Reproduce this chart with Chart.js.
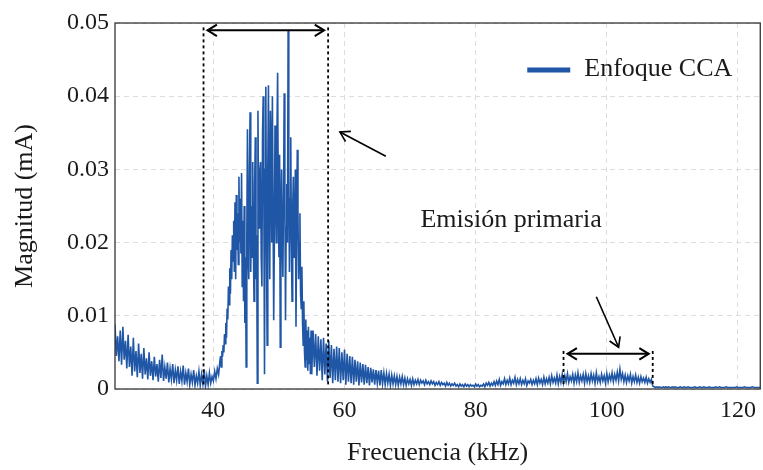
<!DOCTYPE html>
<html lang="es">
<head>
<meta charset="utf-8">
<title>Enfoque CCA — espectro</title>
<script src="https://cdn.jsdelivr.net/npm/chart.js@4.4.1/dist/chart.umd.min.js"></script>
<style>
  html, body { margin: 0; padding: 0; background: #fff; }
  #wrap { width: 763px; height: 470px; }
</style>
</head>
<body>
<div id="wrap"><canvas id="espectro"></canvas></div>
<script>
// Magnitud, en unidades de 1e-4 mA.
// Tramo bajo: 25.0–40.8 kHz cada 0.2 kHz (una fila = 2 kHz)
const magnitudBaja = [
  88, 45, 72, 38, 80, 33, 85, 40, 66, 28,        // 25
  74, 30, 58, 18, 70, 24, 52, 16, 62, 22,        // 27
  48, 14, 56, 20, 42, 13, 50, 18, 38, 12,        // 29
  44, 17, 34, 10, 40, 15, 47, 11, 30, 14,        // 31
  36, 9, 28, 13, 34, 8, 26, 12, 31, 7,           // 33
  24, 11, 32, 6, 22, 10, 28, 6, 20, 9,           // 35
  26, 5, 18, 8, 24, 5, 20, 7, 27, 4,             // 37
  18, 6, 22, 8, 17, 11, 24, 14, 28, 20           // 39
];

// Emisión primaria: 41.0–54.9 kHz cada 0.1 kHz (una fila = 1 kHz)
const magnitudPico = [
  38, 45, 30, 52, 44, 60, 50, 75, 62, 90,             // 41
  70, 110, 95, 140, 115, 165, 130, 190, 150, 210,     // 42
  175, 230, 160, 255, 150, 265, 190, 240, 170, 290,   // 43
  200, 260, 185, 295, 140, 230, 120, 250, 90, 180,    // 44
  30, 210, 355, 180, 150, 300, 378, 160, 250, 180,    // 45
  310, 200, 120, 280, 344, 150, 210, 8, 380, 240,     // 46
  220, 300, 310, 180, 140, 350, 400, 260, 20, 300,    // 47
  413, 200, 60, 300, 415, 250, 150, 380, 330, 200,    // 48
  400, 250, 94, 200, 360, 280, 200, 350, 432, 260,    // 49
  180, 320, 57, 240, 300, 200, 153, 260, 404, 280,    // 50
  94, 220, 280, 200, 490, 300, 160, 260, 344, 200,    // 51
  120, 250, 290, 180, 200, 300, 85, 220, 327, 240,    // 52
  150, 200, 240, 130, 110, 167, 90, 60, 120, 50,      // 53
  30, 95, 40, 80, 25, 85, 35, 70, 20, 80              // 54
];

// Tramo alto: 55.0–123.4 kHz cada 0.2 kHz (una fila = 2 kHz)
const magnitudAlta = [
  20, 80, 30, 75, 18, 72, 25, 68, 12, 70,        // 55
  20, 62, 10, 66, 15, 60, 8, 55, 12, 58,         // 57
  10, 56, 8, 50, 12, 54, 6, 48, 10, 45,          // 59
  8, 44, 6, 40, 10, 38, 5, 36, 9, 34,            // 61
  6, 33, 8, 30, 5, 29, 9, 27, 6, 26,             // 63
  8, 25, 5, 26, 7, 22, 6, 21, 8, 20,             // 65
  5, 19, 7, 18, 6, 17, 5, 16, 7, 17,             // 67
  6, 15, 5, 14, 7, 13, 5, 14, 6, 12,             // 69
  7, 13, 6, 12, 8, 11, 6, 12, 7, 10,             // 71
  6, 11, 7, 10, 5, 9, 6, 10, 5, 9,               // 73
  6, 8, 4, 9, 5, 8, 4, 7, 5, 8,                  // 75
  4, 6, 3, 7, 4, 6, 3, 7, 4, 6,                  // 77
  3, 6, 4, 5, 3, 7, 4, 6, 3, 5,                  // 79
  4, 7, 3, 8, 5, 9, 4, 8, 5, 10,                 // 81
  5, 11, 6, 13, 5, 10, 7, 14, 6, 12,             // 83
  7, 15, 6, 12, 8, 16, 6, 13, 7, 14,             // 85
  6, 12, 7, 14, 5, 11, 8, 13, 6, 12,             // 87
  7, 14, 6, 15, 8, 13, 6, 16, 7, 14,             // 89
  8, 16, 7, 18, 9, 15, 8, 19, 7, 17,             // 91
  9, 20, 8, 18, 10, 21, 9, 17, 11, 20,           // 93
  8, 19, 10, 22, 9, 18, 11, 20, 8, 21,           // 95
  10, 18, 9, 21, 11, 19, 8, 22, 10, 17,          // 97
  9, 20, 11, 18, 8, 21, 10, 19, 12, 22,          // 99
  10, 20, 12, 23, 11, 27, 13, 21, 10, 19,        // 101
  9, 18, 11, 20, 8, 17, 10, 19, 9, 16,           // 103
  8, 17, 10, 15, 9, 16, 8, 14, 9, 13,            // 105
  4, 3, 2, 3, 2, 3, 2, 2, 3, 2,                  // 107
  3, 2, 3, 2, 2, 3, 2, 3, 2, 2,                  // 109
  2, 3, 2, 2, 3, 2, 2, 3, 2, 2,                  // 111
  2, 2, 3, 2, 2, 2, 3, 2, 2, 3,                  // 113
  2, 2, 2, 3, 2, 2, 2, 2, 3, 2,                  // 115
  2, 3, 2, 2, 2, 2, 3, 2, 2, 2,                  // 117
  2, 2, 2, 2, 3, 2, 2, 2, 2, 2,                  // 119
  3, 2, 2, 2, 2, 2, 3, 2, 2, 2,                  // 121
  2, 2, 2                                        // 123
];

// Inicio y paso (kHz) de cada tramo
const tramos = [
  { inicio: 25.0, paso: 0.2, valores: magnitudBaja },
  { inicio: 41.0, paso: 0.1, valores: magnitudPico },
  { inicio: 55.0, paso: 0.2, valores: magnitudAlta }
];

const ticksX = [40, 60, 80, 100, 120];
const ticksY = [0, 0.01, 0.02, 0.03, 0.04, 0.05];

// Anotaciones en coordenadas de datos (kHz, mA)
const bandas = [
  { desde: 38.5, hasta: 57.5, abajo: 0.0005, arriba: 0.0494, flecha: 0.0490 },
  { desde: 93.4, hasta: 107.0, abajo: 0.0003, arriba: 0.0052, flecha: 0.0048 }
];
const flechas = [
  { x0: 66.3, y0: 0.0318, x1: 59.3, y1: 0.0351 },
  { x0: 98.4, y0: 0.0126, x1: 101.8, y1: 0.0057 }
];
const rotulo = { texto: 'Emisión primaria', x: 85.4, y: 0.0231 };

const SERIF = '"Liberation Serif", "Times New Roman", serif';
const TINTA = '#1a1a1a';
const AZUL = '#1f56a6';

const puntos = tramos.flatMap(t => t.valores.map((m, i) => ({
  x: +(t.inicio + i * t.paso).toFixed(1),
  y: m / 10000
})));

function punta(ctx, x, y, ang, largo) {
  ctx.beginPath();
  ctx.moveTo(x + largo * Math.cos(ang + 0.55), y + largo * Math.sin(ang + 0.55));
  ctx.lineTo(x, y);
  ctx.lineTo(x + largo * Math.cos(ang - 0.55), y + largo * Math.sin(ang - 0.55));
  ctx.stroke();
}

const notas = {
  id: 'notas',
  afterDatasetsDraw(chart) {
    const { ctx, chartArea: a, scales: { x, y } } = chart;
    ctx.save();

    // marco
    ctx.strokeStyle = '#333';
    ctx.lineWidth = 1.3;
    ctx.strokeRect(a.left, a.top, a.right - a.left, a.bottom - a.top);

    // bandas punteadas con flecha doble
    ctx.strokeStyle = '#000';
    bandas.forEach(b => {
      const xa = x.getPixelForValue(b.desde), xb = x.getPixelForValue(b.hasta);
      ctx.lineWidth = 1.8;
      ctx.setLineDash([3, 3]);
      [xa, xb].forEach(px => {
        ctx.beginPath();
        ctx.moveTo(px, y.getPixelForValue(b.arriba));
        ctx.lineTo(px, y.getPixelForValue(b.abajo));
        ctx.stroke();
      });
      ctx.setLineDash([]);
      const py = y.getPixelForValue(b.flecha);
      ctx.lineWidth = 2;
      ctx.beginPath();
      ctx.moveTo(xa + 4, py);
      ctx.lineTo(xb - 4, py);
      ctx.stroke();
      punta(ctx, xa + 4, py, 0, 11);
      punta(ctx, xb - 4, py, Math.PI, 11);
    });

    // flechas simples
    ctx.lineWidth = 1.6;
    flechas.forEach(f => {
      const p0x = x.getPixelForValue(f.x0), p0y = y.getPixelForValue(f.y0);
      const p1x = x.getPixelForValue(f.x1), p1y = y.getPixelForValue(f.y1);
      ctx.beginPath();
      ctx.moveTo(p0x, p0y);
      ctx.lineTo(p1x, p1y);
      ctx.stroke();
      punta(ctx, p1x, p1y, Math.atan2(p0y - p1y, p0x - p1x), 11);
    });

    // rótulo
    ctx.fillStyle = TINTA;
    ctx.font = '26px ' + SERIF;
    ctx.textAlign = 'center';
    ctx.textBaseline = 'middle';
    ctx.fillText(rotulo.texto, x.getPixelForValue(rotulo.x), y.getPixelForValue(rotulo.y));

    // leyenda
    const ly = a.top + 47;
    ctx.strokeStyle = AZUL;
    ctx.lineWidth = 5;
    ctx.beginPath();
    ctx.moveTo(a.right - 233, ly);
    ctx.lineTo(a.right - 190, ly);
    ctx.stroke();
    ctx.textAlign = 'left';
    ctx.fillText('Enfoque CCA', a.right - 176, ly - 1);

    ctx.restore();
  }
};

new Chart(document.getElementById('espectro'), {
  type: 'line',
  data: {
    datasets: [{
      label: 'Enfoque CCA',
      data: puntos,
      borderColor: AZUL,
      borderWidth: 1.6,
      borderJoinStyle: 'miter',
      pointRadius: 0,
      tension: 0,
      fill: false
    }]
  },
  options: {
    responsive: true,
    maintainAspectRatio: false,
    animation: false,
    layout: { padding: { top: 23, right: 1, left: 0, bottom: 0 } },
    plugins: {
      legend: { display: false },
      tooltip: { enabled: false }
    },
    scales: {
      x: {
        type: 'linear',
        min: 25,
        max: 123.4,
        afterBuildTicks: s => { s.ticks = ticksX.map(v => ({ value: v })); },
        afterFit: s => { s.height = 81; },
        grid: { color: '#dcdcdc', drawTicks: false },
        border: { display: false, dash: [5, 4] },
        ticks: { color: TINTA, padding: 7, font: { family: SERIF, size: 24 } },
        title: {
          display: true,
          text: 'Frecuencia (kHz)',
          color: TINTA,
          padding: { top: 0, bottom: 1 },
          font: { family: SERIF, size: 26 }
        }
      },
      y: {
        min: 0,
        max: 0.05,
        afterBuildTicks: s => { s.ticks = ticksY.map(v => ({ value: v })); },
        afterFit: s => { s.width = 115; },
        grid: { color: '#dcdcdc', drawTicks: false },
        border: { display: false, dash: [5, 4] },
        ticks: {
          color: TINTA,
          padding: 6,
          font: { family: SERIF, size: 24 },
          callback: v => v === 0 ? '0' : v.toFixed(2)
        },
        title: {
          display: true,
          text: 'Magnitud (mA)',
          color: TINTA,
          padding: { top: 10, bottom: 0 },
          font: { family: SERIF, size: 26 }
        }
      }
    }
  },
  plugins: [notas]
});
</script>
</body>
</html>
